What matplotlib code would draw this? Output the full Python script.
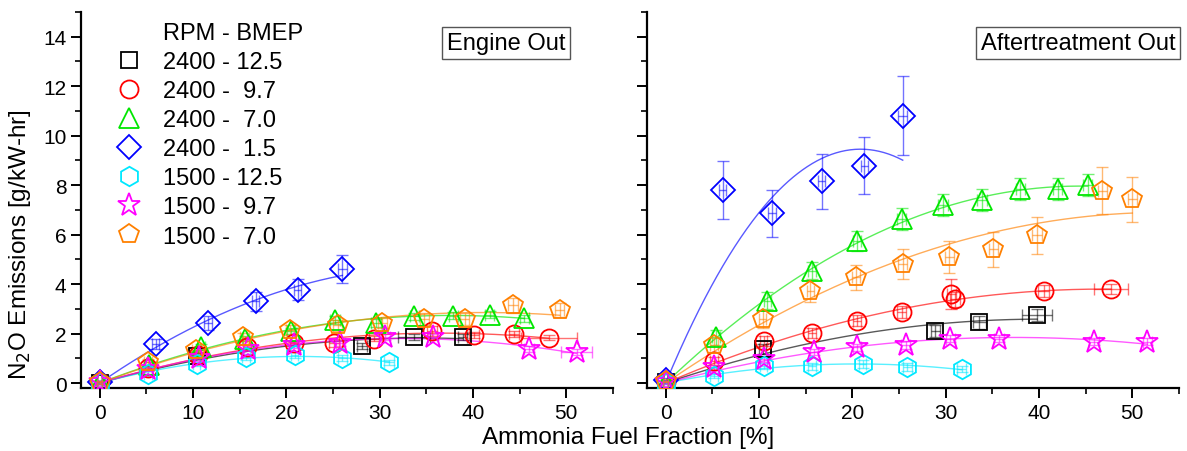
"""N2O emissions vs ammonia fuel fraction, engine out and aftertreatment out."""

import matplotlib

matplotlib.use("Agg")
import matplotlib.pyplot as plt
import numpy as np
from matplotlib.lines import Line2D
from matplotlib.ticker import MultipleLocator

plt.rcParams["font.family"] = ["Liberation Sans", "DejaVu Sans"]

# Operating points, legend order (RPM - BMEP [bar])
series_labels = [
    "2400 - 12.5", "2400 -  9.7", "2400 -  7.0", "2400 -  1.5",
    "1500 - 12.5", "1500 -  9.7", "1500 -  7.0",
]

# ---- Engine out: ammonia fuel fraction [%] ----
eo_frac = [
    [0.0, 10.4, 28.1, 33.7, 38.9],
    [0.0, 5.2, 10.5, 15.8, 20.8, 25.1, 29.4, 35.6, 40.1, 44.4, 48.1],
    [0.0, 5.3, 10.9, 15.6, 20.5, 25.2, 29.6, 33.7, 37.9, 41.8, 45.5],
    [0.0, 6.0, 11.6, 16.7, 21.2, 26.0],
    [0.0, 5.2, 10.4, 15.7, 20.9, 26.0, 31.0],
    [0.0, 5.2, 10.6, 15.9, 20.8, 25.8, 30.6, 35.7, 46.0, 51.1],
    [0.0, 5.2, 10.3, 15.4, 20.4, 25.5, 30.3, 34.8, 39.1, 44.3, 49.3],
]
# Engine out: N2O [g/kW-hr]
eo_n2o = [
    [0.02, 1.10, 1.48, 1.87, 1.88],
    [0.03, 0.60, 1.15, 1.45, 1.60, 1.62, 1.80, 2.12, 1.93, 2.00, 1.84],
    [0.05, 0.75, 1.45, 1.80, 2.10, 2.55, 2.42, 2.70, 2.72, 2.77, 2.62],
    [0.03, 1.57, 2.42, 3.30, 3.78, 4.60],
    [0.02, 0.37, 0.77, 1.07, 1.13, 1.00, 0.84],
    [0.03, 0.55, 1.00, 1.38, 1.52, 1.60, 1.85, 1.88, 1.37, 1.25],
    [0.03, 0.84, 1.32, 1.86, 2.16, 2.33, 2.43, 2.58, 2.60, 3.15, 2.96],
]
eo_n2o_err = [
    [0.05, 0.10, 0.12, 0.12, 0.12],
    [0.05, 0.08, 0.10, 0.10, 0.10, 0.15, 0.12, 0.20, 0.12, 0.12, 0.10],
    [0.05, 0.10, 0.12, 0.12, 0.12, 0.15, 0.15, 0.15, 0.15, 0.15, 0.15],
    [0.05, 0.20, 0.28, 0.38, 0.44, 0.57],
    [0.05, 0.10, 0.10, 0.12, 0.12, 0.12, 0.10],
    [0.05, 0.08, 0.10, 0.10, 0.12, 0.12, 0.12, 0.12, 0.12, 0.12],
    [0.05, 0.12, 0.15, 0.18, 0.20, 0.22, 0.22, 0.25, 0.25, 0.30, 0.28],
]
eo_frac_err = [
    [0.3, 0.4, 0.5, 1.7, 0.5],
    [0.3, 0.4, 0.4, 0.4, 0.4, 0.5, 0.5, 0.5, 0.5, 0.5, 3.0],
    [0.3, 0.4, 0.4, 0.4, 0.4, 0.5, 0.5, 0.5, 0.5, 0.5, 0.5],
    [0.3, 0.4, 0.4, 0.4, 0.4, 0.5],
    [0.3, 0.4, 0.4, 0.4, 0.4, 0.5, 0.5],
    [0.3, 0.4, 0.4, 0.4, 0.4, 0.5, 0.5, 0.5, 0.5, 1.7],
    [0.3, 0.4, 0.4, 0.4, 0.4, 0.5, 0.5, 0.5, 0.5, 0.5, 0.5],
]

# ---- Aftertreatment out ----
at_frac = [
    [0.0, 10.4, 28.9, 33.6, 39.8],
    [0.0, 5.2, 10.5, 15.7, 20.5, 25.3, 30.6, 31.0, 40.5, 47.7],
    [0.0, 5.4, 10.9, 15.7, 20.5, 25.3, 29.7, 33.9, 38.0, 42.0, 45.2],
    [0.0, 6.1, 11.4, 16.7, 21.3, 25.4],
    [0.0, 5.2, 10.5, 15.7, 21.1, 25.9, 31.7],
    [0.0, 5.2, 10.5, 15.9, 20.5, 25.7, 30.5, 35.7, 45.9, 51.6],
    [0.0, 5.2, 10.4, 15.5, 20.4, 25.4, 30.4, 35.1, 39.8, 46.8, 50.0],
]
at_n2o = [
    [0.05, 1.37, 2.11, 2.45, 2.75],
    [0.05, 0.90, 1.71, 2.02, 2.52, 2.88, 3.60, 3.38, 3.72, 3.82],
    [0.05, 1.85, 3.33, 4.54, 5.75, 6.63, 7.19, 7.41, 7.84, 7.84, 8.00],
    [0.12, 7.80, 6.86, 8.15, 8.78, 10.80],
    [0.02, 0.30, 0.70, 0.67, 0.77, 0.65, 0.57],
    [0.03, 0.63, 0.97, 1.24, 1.44, 1.54, 1.80, 1.80, 1.67, 1.67],
    [0.10, 1.54, 2.59, 3.73, 4.27, 4.81, 5.08, 5.41, 5.98, 7.77, 7.43],
]
at_n2o_err = [
    [0.05, 0.20, 0.25, 0.25, 0.25],
    [0.05, 0.15, 0.20, 0.20, 0.22, 0.25, 0.60, 0.30, 0.25, 0.20],
    [0.05, 0.30, 0.35, 0.35, 0.40, 0.45, 0.45, 0.45, 0.45, 0.45, 0.45],
    [0.10, 1.16, 0.95, 1.10, 1.15, 1.60],
    [0.05, 0.10, 0.12, 0.15, 0.15, 0.15, 0.12],
    [0.05, 0.10, 0.12, 0.12, 0.15, 0.15, 0.15, 0.15, 0.15, 0.15],
    [0.05, 0.30, 0.35, 0.45, 0.50, 0.60, 0.65, 0.70, 0.75, 0.95, 0.92],
]
at_frac_err = [
    [0.3, 0.4, 0.5, 0.7, 1.6],
    [0.3, 0.4, 0.4, 0.4, 0.4, 0.5, 0.5, 0.5, 0.6, 1.8],
    [0.3, 0.4, 0.4, 0.4, 0.4, 0.5, 0.5, 0.5, 0.5, 0.5, 0.5],
    [0.3, 0.4, 0.4, 0.4, 0.4, 0.5],
    [0.3, 0.4, 0.4, 0.4, 0.4, 0.5, 0.5],
    [0.3, 0.4, 0.4, 0.4, 0.4, 0.5, 0.5, 0.5, 0.5, 0.5],
    [0.3, 0.4, 0.4, 0.4, 0.4, 0.5, 0.5, 0.5, 0.5, 0.5, 0.5],
]

colors = ["#000000", "#ff0000", "#00e600", "#0000ff",
          "#00e8ff", "#ff00ff", "#ff8000"]
markers = ["s", "o", "^", "D", "h", "*", "p"]
msizes = [11, 13, 14, 12, 14, 17, 15]

FS = 17


def _quad_fit(x, y, sigma):
    """Weighted second-order fit forced through the origin."""
    x = np.asarray(x, dtype=float)
    y = np.asarray(y, dtype=float)
    w = 1.0 / np.asarray(sigma, dtype=float)
    A = np.column_stack([x, x ** 2])
    coef, *_ = np.linalg.lstsq(A * w[:, None], y * w, rcond=None)
    xs = np.linspace(0.0, x.max(), 200)
    return xs, coef[0] * xs + coef[1] * xs ** 2


def draw_panel(ax, frac, n2o, n2o_err, frac_err):
    for i in range(len(series_labels)):
        c = colors[i]
        xs, ys = _quad_fit(frac[i], n2o[i], n2o_err[i])
        ax.plot(xs, ys, color=c, lw=1.0, alpha=0.65, zorder=2)
        ax.errorbar(frac[i], n2o[i], yerr=n2o_err[i], xerr=frac_err[i],
                    fmt="none", ecolor=c, elinewidth=1.0, capsize=4,
                    capthick=1.0, alpha=0.55, zorder=3)
        ax.plot(frac[i], n2o[i], linestyle="none", marker=markers[i],
                ms=msizes[i], mfc="none", mec=c, mew=1.3, zorder=4)

    ax.set_xlim(-2, 55)
    ax.set_ylim(-0.2, 15)
    ax.xaxis.set_major_locator(MultipleLocator(10))
    ax.xaxis.set_minor_locator(MultipleLocator(5))
    ax.yaxis.set_major_locator(MultipleLocator(2))
    ax.yaxis.set_minor_locator(MultipleLocator(1))
    ax.set_xticks([0, 10, 20, 30, 40, 50])
    for side in ("top", "right"):
        ax.spines[side].set_visible(False)
    for side in ("left", "bottom"):
        ax.spines[side].set_linewidth(1.6)
    ax.tick_params(which="major", direction="out", length=7, width=1.4,
                   labelsize=15)
    ax.tick_params(which="minor", direction="out", length=4, width=1.2)


fig = plt.figure(figsize=(11.87, 4.52), dpi=100)
ax_eo = fig.add_axes([81 / 1187, 63 / 452, 532 / 1187, 376 / 452])
ax_at = fig.add_axes([647 / 1187, 63 / 452, 532 / 1187, 376 / 452])

draw_panel(ax_eo, eo_frac, eo_n2o, eo_n2o_err, eo_frac_err)
draw_panel(ax_at, at_frac, at_n2o, at_n2o_err, at_frac_err)
ax_at.tick_params(axis="y", which="both", labelleft=False)

box = dict(boxstyle="square,pad=0.2", facecolor="white",
           edgecolor="#555555", linewidth=1.0)
ax_eo.text(506, 452 - 44, "Engine Out", transform=None, fontsize=FS,
           ha="center", va="center", bbox=box)
ax_at.text(1078, 452 - 44, "Aftertreatment Out", transform=None,
           fontsize=FS, ha="center", va="center", bbox=box)

# legend: first row is the header, drawn as a handle-less entry
handles = [Line2D([], [], linestyle="none")]
labels = ["RPM - BMEP"]
for i, lab in enumerate(series_labels):
    handles.append(Line2D([], [], linestyle="none", marker=markers[i],
                          ms=msizes[i], mfc="none", mec=colors[i], mew=1.3))
    labels.append(lab)
ax_eo.legend(handles, labels, loc="upper left",
             bbox_to_anchor=(117 / 1187, 1 - 23 / 452),
             bbox_transform=fig.transFigure, frameon=False, fontsize=FS,
             handlelength=1.0, handletextpad=0.95, labelspacing=0.3,
             borderpad=0, borderaxespad=0)

fig.text(628 / 1187, 1 - 438 / 452, "Ammonia Fuel Fraction [%]",
         ha="center", va="center", fontsize=17.5)
fig.text(20 / 1187, 1 - 245 / 452, "N$_2$O Emissions [g/kW-hr]",
         ha="center", va="center", rotation=90, fontsize=17.5)

fig.savefig("out.png", dpi=100, facecolor="white")
